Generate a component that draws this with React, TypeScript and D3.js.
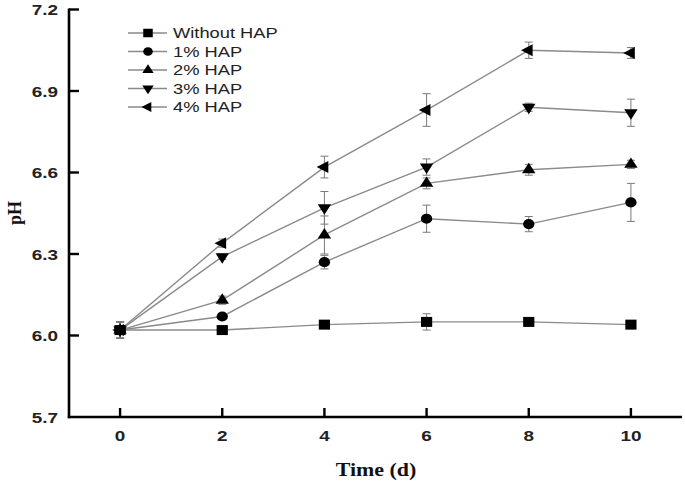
import React from 'react';
import * as d3 from 'd3';

// Data
const days = [0, 2, 4, 6, 8, 10];
const seriesNames = ['Without HAP', '1% HAP', '2% HAP', '3% HAP', '4% HAP'];

const withoutHap = [6.02, 6.02, 6.04, 6.05, 6.05, 6.04];
const hap1 = [6.02, 6.07, 6.27, 6.43, 6.41, 6.49];
const hap2 = [6.02, 6.13, 6.37, 6.56, 6.61, 6.63];
const hap3 = [6.02, 6.29, 6.47, 6.62, 6.84, 6.82];
const hap4 = [6.02, 6.34, 6.62, 6.83, 7.05, 7.04];

const errWithout = [0.03, 0.01, 0.01, 0.03, 0.01, 0.01];
const err1 = [0.03, 0.01, 0.025, 0.05, 0.028, 0.07];
const err2 = [0.03, 0.015, 0.07, 0.02, 0.02, 0.015];
const err3 = [0.03, 0.01, 0.06, 0.03, 0.015, 0.05];
const err4 = [0.03, 0.015, 0.04, 0.06, 0.03, 0.02];

const yTicks = [5.7, 6.0, 6.3, 6.6, 6.9, 7.2];
const xTicks = [0, 2, 4, 6, 8, 10];

const seriesValues = [withoutHap, hap1, hap2, hap3, hap4];
const seriesErrors = [errWithout, err1, err2, err3, err4];
const markerKinds = ['square', 'circle', 'up', 'down', 'left'];

const W = 685;
const H = 481;
const SX = 1.22; // the figure is a bit stretched horizontally

const x = d3.scaleLinear().domain([-1, 11]).range([69, 682]);
const y = d3.scaleLinear().domain([5.7, 7.2]).range([417, 9.5]);

const markerPath = (kind: string, size: number) => {
  if (kind === 'square') return d3.symbol(d3.symbolSquare, size * size)() || '';
  if (kind === 'circle') return d3.symbol(d3.symbolCircle, size * size * 0.8)() || '';
  return d3.symbol(d3.symbolTriangle, size * size * 0.62)() || '';
};

const rot = (kind: string) => (kind === 'down' ? 180 : kind === 'left' ? -90 : 0);

const Marker = ({ kind, cx, cy, size }: { kind: string; cx: number; cy: number; size: number }) => (
  <path
    d={markerPath(kind, size)}
    transform={`translate(${cx},${cy}) scale(${SX * 0.92},1) rotate(${rot(kind)})`}
    fill="#000"
  />
);

const SText = (props: any) => {
  const { x: tx, y: ty, children, ...rest } = props;
  return (
    <g transform={`translate(${tx},${ty}) scale(${SX},1)`}>
      <text x={0} y={0} {...rest}>
        {children}
      </text>
    </g>
  );
};

const App: React.FC = () => {
  const line = d3
    .line<number>()
    .x((_, i) => x(days[i]))
    .y((d) => y(d));

  return (
    <svg width={W} height={H} style={{ position: 'absolute', left: 0, top: 0, background: '#fff' }}>
      {/* lines */}
      {seriesValues.map((vals, s) => (
        <path key={'l' + s} d={line(vals) || ''} fill="none" stroke="#8a8a8a" strokeWidth={1.4} />
      ))}

      {/* error bars */}
      {seriesValues.map((vals, s) =>
        vals.map((v, i) => {
          const e = seriesErrors[s][i];
          const cx = x(days[i]);
          return (
            <g key={`e${s}-${i}`} stroke="#7a7a7a" strokeWidth={1}>
              <line x1={cx} x2={cx} y1={y(v - e)} y2={y(v + e)} />
              <line x1={cx - 4} x2={cx + 4} y1={y(v + e)} y2={y(v + e)} />
              <line x1={cx - 4} x2={cx + 4} y1={y(v - e)} y2={y(v - e)} />
            </g>
          );
        })
      )}

      {/* markers */}
      {seriesValues.map((vals, s) =>
        vals.map((v, i) => (
          <Marker key={`m${s}-${i}`} kind={markerKinds[s]} cx={x(days[i])} cy={y(v)} size={10} />
        ))
      )}

      {/* axes */}
      <line x1={x(-1)} x2={x(-1)} y1={y(7.2) - 1} y2={y(5.7) + 1.2} stroke="#000" strokeWidth={2.6} />
      <line x1={x(-1) - 1.2} x2={x(11)} y1={y(5.7)} y2={y(5.7)} stroke="#000" strokeWidth={2.6} />

      {yTicks.map((t) => (
        <g key={'yt' + t}>
          {t !== 5.7 && (
            <line x1={x(-1)} x2={x(-1) + 10} y1={y(t)} y2={y(t)} stroke="#000" strokeWidth={2.4} />
          )}
          <SText
            x={58}
            y={y(t) + 5.5}
            textAnchor="end"
            fontFamily="Liberation Sans, Arial, sans-serif"
            fontWeight="bold"
            fontSize={15.5}
            fill="#222"
          >
            {t.toFixed(1)}
          </SText>
        </g>
      ))}

      {xTicks.map((t) => (
        <g key={'xt' + t}>
          <line x1={x(t)} x2={x(t)} y1={y(5.7)} y2={y(5.7) - 9} stroke="#000" strokeWidth={2.4} />
          <SText
            x={x(t)}
            y={441}
            textAnchor="middle"
            fontFamily="Liberation Sans, Arial, sans-serif"
            fontWeight="bold"
            fontSize={15.5}
            fill="#222"
          >
            {t}
          </SText>
        </g>
      ))}

      {/* axis titles */}
      <SText
        x={376}
        y={476}
        textAnchor="middle"
        fontFamily="Liberation Serif, Times New Roman, serif"
        fontWeight="bold"
        fontSize={18}
        fill="#111"
      >
        Time (d)
      </SText>
      <g transform={`translate(21,213) rotate(-90)`}>
        <text
          x={0}
          y={0}
          textAnchor="middle"
          fontFamily="Liberation Serif, Times New Roman, serif"
          fontWeight="bold"
          fontSize={18}
          fill="#111"
        >
          pH
        </text>
      </g>

      {/* legend */}
      {seriesNames.map((name, s) => {
        const ly = 33 + s * 18.5;
        return (
          <g key={'lg' + s}>
            <line x1={128} x2={167} y1={ly} y2={ly} stroke="#8a8a8a" strokeWidth={1.4} />
            <Marker kind={markerKinds[s]} cx={148} cy={ly} size={8.5} />
            <SText
              x={173}
              y={ly + 5.3}
              fontFamily="Liberation Sans, Arial, sans-serif"
              fontSize={15}
              fill="#222"
            >
              {name}
            </SText>
          </g>
        );
      })}
    </svg>
  );
};

export default App;
